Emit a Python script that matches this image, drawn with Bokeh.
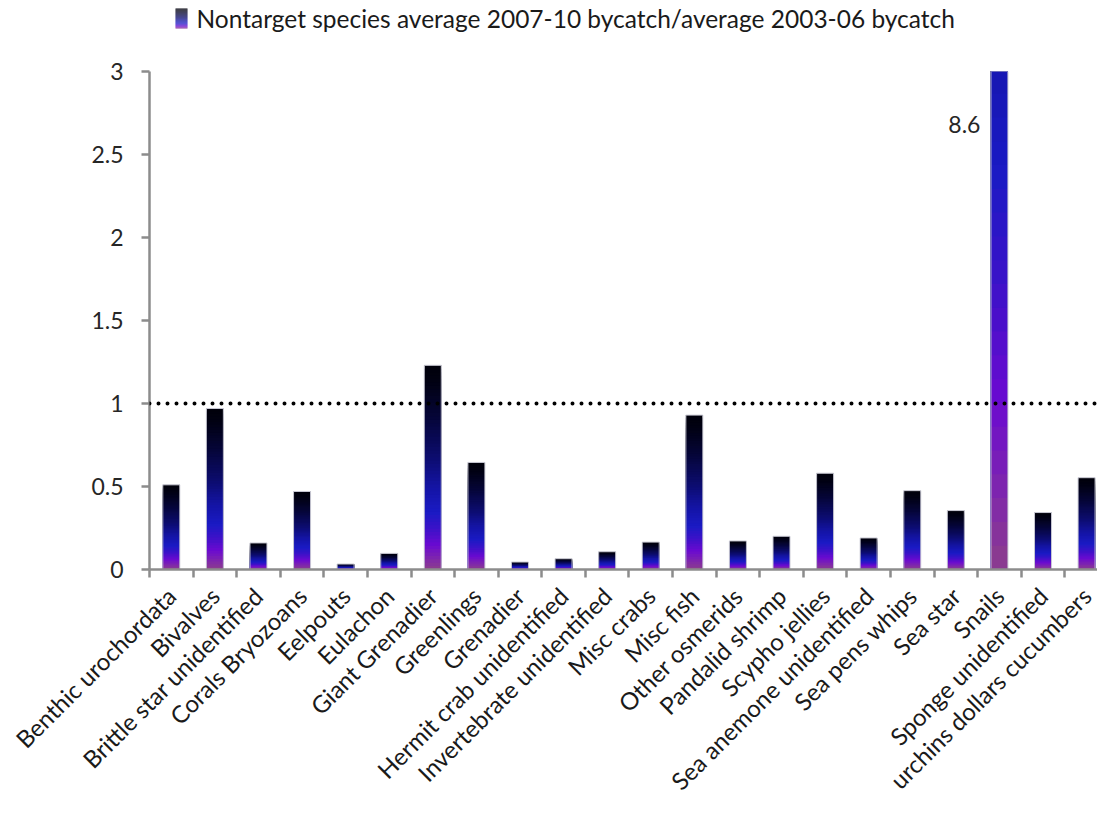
import math
import numpy as np
from bokeh.plotting import figure
from bokeh.layouts import column
from bokeh.models import (ColumnDataSource, Range1d, FixedTicker, Span, Label)
from bokeh.core.properties import value
from bokeh.embed import file_html
from bokeh.resources import INLINE

# ---- data -------------------------------------------------------------
species = [
    "Benthic urochordata", "Bivalves", "Brittle star unidentified",
    "Corals Bryozoans", "Eelpouts", "Eulachon", "Giant Grenadier",
    "Greenlings", "Grenadier", "Hermit crab unidentified",
    "Invertebrate unidentified", "Misc crabs", "Misc fish",
    "Other osmerids", "Pandalid shrimp", "Scypho jellies",
    "Sea anemone unidentified", "Sea pens whips", "Sea star", "Snails",
    "Sponge unidentified", "urchins dollars cucumbers",
]
ratio = [0.51, 0.97, 0.16, 0.47, 0.033, 0.097, 1.23, 0.645, 0.045, 0.065,
         0.107, 0.165, 0.93, 0.172, 0.20, 0.58, 0.19, 0.475, 0.355, 8.6,
         0.343, 0.553]
y_ticks = [0, 0.5, 1, 1.5, 2, 2.5, 3]
y_tick_labels = ["0", "0.5", "1", "1.5", "2", "2.5", "3"]
y_max = 3
reference_level = 1
series_name = "Nontarget species average 2007-10 bycatch/average 2003-06 bycatch"

# ---- gradient fill (purple at the base, black at the top of each bar) ---
stop_pos = [0.0, 0.05, 0.12, 0.20, 0.28, 0.40, 0.55, 0.75, 0.92, 1.0]
stop_rgb = [(140, 62, 140), (128, 40, 170), (106, 10, 208), (60, 18, 200),
            (26, 26, 196), (20, 20, 165), (12, 12, 110), (5, 5, 55),
            (1, 1, 18), (0, 0, 10)]
N_SLICES = 60


def grad_color(t):
    r = np.interp(t, stop_pos, [c[0] for c in stop_rgb])
    g = np.interp(t, stop_pos, [c[1] for c in stop_rgb])
    b = np.interp(t, stop_pos, [c[2] for c in stop_rgb])
    return "#%02x%02x%02x" % (int(round(r)), int(round(g)), int(round(b)))


# every bar is a stack of nested rectangles from the baseline, tallest first,
# so each shorter one paints the next colour band without seams
xs, tops, cols = [], [], []
for i, v in enumerate(ratio):
    for k in range(N_SLICES, 0, -1):
        xs.append(i)
        tops.append(v * k / N_SLICES)
        cols.append(grad_color((k - 0.5) / N_SLICES))
slices = ColumnDataSource(dict(x=xs, top=tops, color=cols))
bars = ColumnDataSource(dict(x=list(range(len(species))), top=ratio))

FONT = "Lato"
AXIS_GREY = "#8c8c8c"
BAR_W = 0.39
W, H = 1097, 818
KEY_H = 48
LEFT = 149

# ---- key strip above the chart (x in pixels, frame starts at LEFT) -------
key = figure(width=W, height=KEY_H, output_backend="svg", toolbar_location=None,
             x_range=Range1d(LEFT, W), y_range=Range1d(0, KEY_H),
             min_border=0, min_border_left=LEFT)
key.axis.visible = False
key.grid.visible = False
key.outline_line_color = None
sw_steps = 20
sw_bottom = [20 + 20 * k / sw_steps for k in range(sw_steps)]
key.quad(left=175, right=187, bottom=sw_bottom,
         top=[b + 20 / sw_steps + 0.05 for b in sw_bottom],
         fill_color=[grad_color((k + 0.5) / sw_steps) for k in range(sw_steps)],
         line_color=None)
key.text(x=[196], y=[30], text=[series_name], text_font=value(FONT),
         text_font_size="24.5px", text_color="#1a1a1a",
         text_baseline="middle", text_align="left")

# ---- main chart ---------------------------------------------------------
p = figure(width=W, height=H - KEY_H, output_backend="svg",
           toolbar_location=None,
           x_range=Range1d(-0.5, 21.25), y_range=Range1d(0, y_max),
           min_border_left=LEFT, min_border_right=0, min_border_top=71 - KEY_H,
           min_border_bottom=249)
p.outline_line_color = None
p.xgrid.visible = False
p.ygrid.visible = False
p.background_fill_color = "white"

p.vbar(x="x", bottom=0, top="top", width=BAR_W, source=slices,
       fill_color="color", line_color=None)
p.vbar(x="x", top="top", bottom=0, width=BAR_W, source=bars,
       fill_alpha=0, line_color="#c9c9d4", line_width=1)

# reference line at ratio = 1
p.add_layout(Span(location=reference_level, dimension="width",
                  line_color="black", line_width=4, line_dash="0 9",
                  line_cap="round"))

# value label for the bar that runs off the top of the scale
big = int(np.argmax(ratio))
p.add_layout(Label(x=big, y=2.68, x_offset=-19, text=f"{ratio[big]:g}",
                   text_align="right", text_baseline="middle",
                   text_font=FONT, text_font_size="23px",
                   text_color="#262626"))

# axes
xa = p.xaxis[0]
xa.ticker = FixedTicker(ticks=list(range(len(species))),
                        minor_ticks=[i - 0.5 for i in range(len(species) + 1)])
xa.major_label_overrides = {i: s for i, s in enumerate(species)}
xa.major_label_orientation = math.pi / 4
xa.major_tick_out = 0
xa.major_tick_in = 0
xa.minor_tick_out = 8
xa.minor_tick_in = 0
xa.minor_tick_line_color = AXIS_GREY
xa.minor_tick_line_width = 2.5
xa.axis_line_color = AXIS_GREY
xa.axis_line_width = 2.5
xa.major_label_text_font = FONT
xa.major_label_text_font_size = "24px"
xa.major_label_text_color = "#1a1a1a"
xa.major_label_standoff = 14

ya = p.yaxis[0]
ya.ticker = FixedTicker(ticks=y_ticks)
ya.major_label_overrides = {t: s for t, s in zip(y_ticks, y_tick_labels)}
ya.major_tick_out = 8
ya.major_tick_in = 0
ya.minor_tick_out = 0
ya.minor_tick_in = 0
ya.major_tick_line_color = AXIS_GREY
ya.major_tick_line_width = 2.5
ya.axis_line_color = AXIS_GREY
ya.axis_line_width = 2.5
ya.major_label_text_font = FONT
ya.major_label_text_font_size = "23px"
ya.major_label_text_color = "#262626"
ya.major_label_standoff = 18

layout = column(key, p, spacing=0)
open("out.html", "w").write(file_html(layout, INLINE))
